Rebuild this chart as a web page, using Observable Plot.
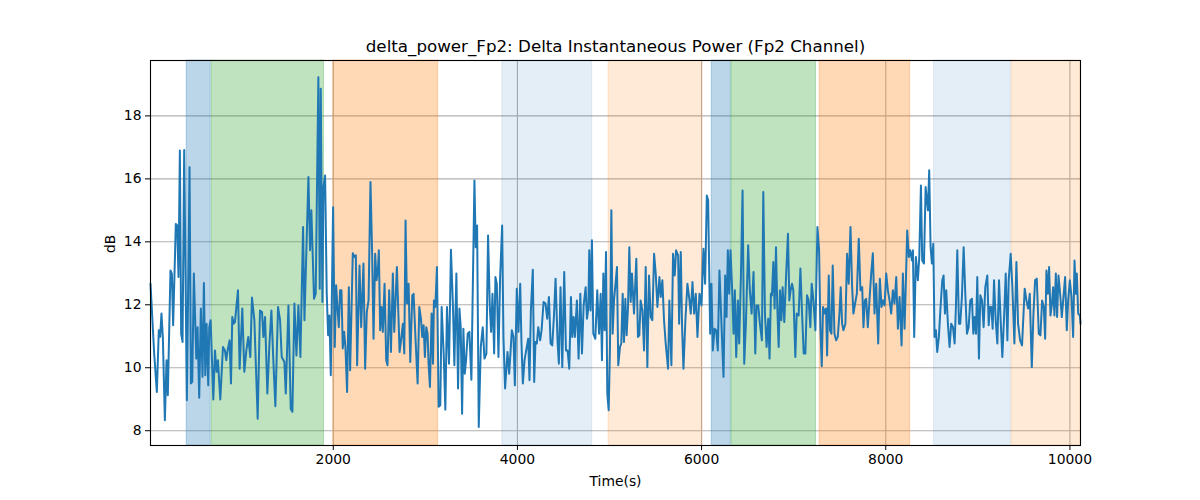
<!DOCTYPE html>
<html><head><meta charset="utf-8">
<script src="https://cdn.jsdelivr.net/npm/d3@7"></script>
<script src="https://cdn.jsdelivr.net/npm/@observablehq/plot@0.6"></script>
<style>html,body{margin:0;padding:0;background:#fff;} #chart svg{font-family:"DejaVu Sans",sans-serif;}</style>
</head><body><div id="chart"></div>
<script>
const title = "delta_power_Fp2: Delta Instantaneous Power (Fp2 Channel)";
const xLabel = "Time(s)";
const yLabel = "dB";
const xTicks = [2000, 4000, 6000, 8000, 10000];
const yTicks = [8, 10, 12, 14, 16, 18];

// shaded segments [start, end] in seconds and their kind
const spanStart = [408, 680, 2000, 3836, 4990, 6110, 6325, 7282, 8525, 9367];
const spanEnd   = [669, 1899, 3139, 4812, 6008, 6317, 7242, 8265, 9358, 10115];
const spanKind  = ["blue", "green", "orange", "paleBlue", "paleOrange", "blue", "green", "orange", "paleBlue", "paleOrange"];

// [time (s), power (dB)]
const trace1 = [[15,12.67],[55,10.45],[84,9.23],[105,11.19],[120,10.98],[134,11.72],[149,10.98],[171,8.33],[189,10.24],[203,9.13],[232,13.09],[247,12.99],[261,11.35],[290,14.57],[305,14.52],[319,12.88],[334,16.90],[348,11.08],[363,10.82],[381,16.92],[410,8.97],[439,16.37],[454,9.50],[468,9.55],[486,12.99],[512,10.29],[526,11.29],[544,9.05],[562,11.88],[580,9.71],[595,12.69],[610,9.76],[624,11.40],[642,9.44],[653,11.29],[668,11.51],[697,8.99],[715,10.55],[733,9.87],[747,10.24],[773,8.99],[802,10.66],[823,10.55],[838,10.24],[852,10.55],[874,10.87],[889,9.50],[903,11.61],[918,11.40],[932,11.45],[965,12.46],[983,9.97],[1012,11.88],[1034,9.87],[1056,10.55],[1077,10.98],[1099,10.34],[1117,12.23],[1143,11.51],[1179,8.38],[1204,11.82],[1226,11.77],[1241,10.98],[1259,11.61],[1284,9.18],[1306,10.71],[1328,11.82],[1349,10.24],[1371,8.78],[1400,11.93],[1422,11.51],[1440,10.34],[1469,10.18],[1484,9.18],[1513,11.98],[1538,8.70],[1556,8.60],[1578,12.04],[1600,10.39],[1621,11.98],[1643,10.34],[1672,14.47],[1687,11.51]];
const trace2 = [[1730,16.06],[1748,13.73],[1762,15.00],[1791,12.19],[1809,12.35],[1838,19.23],[1853,12.51],[1864,18.86],[1882,12.09],[1893,15.74],[1911,16.11],[1929,12.35],[1944,11.03],[1958,11.66],[1973,9.76],[1998,15.10],[2016,10.66],[2031,12.62],[2045,11.93],[2060,11.29],[2074,12.46],[2089,12.46],[2103,10.61],[2118,11.14],[2132,10.66],[2150,9.23],[2169,12.56],[2183,9.92],[2212,13.64],[2230,13.52],[2245,13.57],[2259,10.08],[2285,13.25],[2303,11.29],[2328,13.31],[2346,9.97],[2364,11.77],[2383,12.14],[2404,15.90],[2422,13.62],[2437,10.92],[2455,13.62],[2470,12.78],[2484,13.09],[2495,13.73],[2509,11.19],[2524,11.93],[2538,11.14],[2557,12.67],[2575,10.24],[2589,10.08],[2607,12.46],[2626,10.50],[2647,12.99],[2662,11.14],[2691,13.20],[2720,10.50],[2734,10.82],[2756,11.40],[2771,10.45],[2785,14.68],[2800,12.04],[2818,12.67],[2836,10.18],[2858,12.30],[2872,12.35],[2894,10.87],[2916,9.50],[2934,11.93],[2952,11.56],[2966,10.98],[2981,11.35],[2995,10.34],[3010,11.29],[3024,11.08],[3035,10.13],[3050,9.39],[3068,11.72],[3083,10.13],[3093,12.14],[3108,11.93],[3126,13.20],[3144,8.76],[3162,8.81],[3177,11.93],[3199,10.45],[3217,8.67],[3235,11.93],[3257,10.13],[3278,13.75],[3300,11.93],[3315,10.08]];
const trace3 = [[3337,12.99],[3355,9.34],[3370,11.88],[3384,11.29],[3399,8.54],[3413,11.24],[3428,9.81],[3442,10.24],[3460,11.08],[3478,11.14],[3500,9.62],[3533,15.95],[3547,13.83],[3562,14.52],[3580,8.12],[3602,10.66],[3623,11.29],[3642,10.29],[3663,10.45],[3681,14.20],[3700,11.93],[3714,11.14],[3729,12.35],[3747,10.45],[3761,12.88],[3776,12.67],[3794,10.34],[3812,12.88],[3834,14.52],[3848,10.98],[3866,9.34],[3892,10.50],[3910,9.81],[3924,10.45],[3939,11.19],[3957,10.98],[3972,9.44],[3993,12.51],[4011,11.14],[4030,12.67],[4044,10.77],[4059,9.50],[4077,10.24],[4095,10.55],[4117,10.92],[4131,9.60],[4146,11.82],[4167,13.11],[4182,9.55],[4196,10.82],[4211,10.77],[4226,11.29],[4247,10.87],[4262,11.19],[4284,12.09],[4305,12.04],[4323,11.56],[4342,12.25],[4360,10.77],[4378,10.71],[4396,11.61],[4414,12.83],[4436,10.82],[4450,10.13],[4468,12.56],[4487,10.02],[4508,13.04],[4527,10.55],[4545,10.55],[4563,9.97],[4581,12.25],[4595,10.98],[4610,11.61],[4624,10.98],[4646,12.14],[4664,10.29],[4683,12.35],[4701,10.45],[4719,11.98],[4741,12.56],[4755,11.56],[4770,11.88],[4780,13.73],[4795,11.82],[4809,14.05],[4824,11.08],[4846,10.92],[4867,12.46],[4886,11.08],[4904,12.35],[4918,10.24],[4933,12.99],[4947,11.19],[4962,13.68],[4976,9.18],[4991,8.65],[5005,10.66],[5020,15.00],[5034,11.08],[5049,12.14]];
const trace4 = [[5081,13.20],[5095,10.08],[5114,10.66],[5128,10.77],[5143,12.35],[5157,10.82],[5172,12.19],[5186,11.03],[5201,11.93],[5215,13.83],[5230,12.09],[5244,12.99],[5266,11.72],[5291,13.46],[5309,10.98],[5324,11.03],[5338,12.14],[5357,11.82],[5375,10.55],[5393,13.20],[5411,10.02],[5429,12.93],[5447,11.61],[5465,11.51],[5484,13.62],[5502,12.99],[5520,11.93],[5542,12.88],[5556,12.25],[5574,12.78],[5592,11.51],[5610,10.77],[5636,9.97],[5650,12.14],[5672,10.08],[5690,13.62],[5708,12.93],[5723,13.73],[5745,13.57],[5756,11.40],[5774,13.68],[5788,11.29],[5803,9.97],[5824,11.51],[5846,12.67],[5864,12.25],[5882,11.72],[5901,12.72],[5919,11.72],[5937,12.35],[5955,10.98],[5977,12.35],[5999,11.98],[6020,13.78],[6038,12.67],[6057,15.47],[6071,15.32],[6093,11.08],[6107,12.67],[6122,10.55],[6140,11.24],[6158,11.19],[6176,10.55],[6194,13.09],[6213,11.61],[6238,9.71],[6256,12.93],[6271,11.61],[6285,13.73],[6300,12.35],[6314,13.73],[6332,12.46],[6347,11.08],[6361,12.46],[6376,10.34],[6394,12.14],[6408,10.77],[6427,12.88],[6445,15.63],[6463,10.13],[6481,11.40],[6506,13.89],[6524,12.46],[6543,11.72],[6564,13.04],[6583,10.45],[6597,11.98],[6615,11.98],[6633,11.40],[6655,10.87],[6670,15.58],[6688,11.72],[6706,10.66],[6724,11.56],[6738,10.29],[6753,12.35]];
const trace5 = [[6764,12.30],[6779,13.36],[6793,11.88],[6808,13.83],[6822,11.93],[6837,10.66],[6851,12.46],[6866,11.51],[6880,12.56],[6898,11.45],[6917,12.88],[6938,14.26],[6953,12.14],[6967,12.46],[6982,12.67],[6996,12.46],[7018,10.34],[7033,11.72],[7054,11.66],[7073,13.15],[7091,11.72],[7109,10.45],[7127,10.45],[7145,12.30],[7163,12.14],[7181,11.29],[7196,12.67],[7214,12.14],[7236,11.19],[7258,14.47],[7276,13.73],[7290,11.29],[7305,10.05],[7319,11.93],[7337,11.72],[7352,11.88],[7363,10.39],[7381,12.93],[7395,11.19],[7410,11.08],[7424,13.25],[7443,11.08],[7461,10.87],[7479,10.98],[7497,11.72],[7511,12.56],[7526,11.40],[7540,11.19],[7562,11.40],[7580,13.62],[7598,12.67],[7617,14.47],[7635,12.56],[7649,11.72],[7667,12.04],[7686,12.35],[7707,14.10],[7725,12.46],[7744,12.56],[7758,11.29],[7773,12.14],[7787,12.19],[7805,11.29],[7823,12.14],[7842,12.99],[7860,13.64],[7878,11.72],[7896,12.67],[7918,10.77],[7936,12.83],[7954,11.93],[7969,12.14],[7987,11.98],[8005,12.99],[8023,12.46],[8041,12.14],[8059,11.72],[8077,12.46],[8095,12.04],[8114,12.88],[8132,11.24],[8150,12.25],[8172,10.71],[8186,12.99],[8204,11.24],[8215,12.35],[8233,14.36],[8251,13.52],[8266,13.73],[8284,13.41],[8295,13.73],[8309,10.98],[8327,13.52],[8349,12.78],[8364,13.52],[8382,15.79],[8396,13.41],[8415,13.31],[8433,15.74]];
const trace6 = [[8458,15.00],[8472,16.27],[8487,13.83],[8501,13.31],[8516,13.94],[8530,10.98],[8545,11.19],[8559,10.50],[8577,10.98],[8595,11.93],[8614,12.78],[8628,12.93],[8643,11.72],[8657,12.46],[8675,11.40],[8693,10.66],[8711,11.40],[8730,11.29],[8748,10.77],[8762,11.93],[8777,13.73],[8795,11.40],[8809,11.40],[8827,12.25],[8846,13.83],[8864,12.35],[8882,11.08],[8900,11.29],[8918,12.14],[8936,12.19],[8951,11.08],[8965,11.61],[8980,11.08],[8994,12.88],[9012,10.29],[9027,12.30],[9045,12.14],[9063,11.29],[9081,12.56],[9103,12.93],[9118,11.35],[9132,11.93],[9147,11.93],[9161,11.24],[9176,12.78],[9194,11.51],[9212,10.77],[9230,12.78],[9248,11.51],[9266,10.34],[9285,11.61],[9303,12.99],[9321,10.87],[9335,12.78],[9357,13.62],[9375,12.56],[9397,10.77],[9419,13.36],[9437,11.40],[9459,10.87],[9480,10.71],[9509,12.51],[9528,12.14],[9546,11.88],[9564,12.35],[9586,10.02],[9604,11.72],[9622,12.78],[9640,12.83],[9662,11.08],[9680,11.03],[9698,12.14],[9716,11.93],[9731,10.92],[9745,13.09],[9760,12.35],[9774,13.20],[9789,11.66],[9803,11.98],[9818,12.56],[9832,11.66],[9847,12.99],[9861,11.61],[9876,12.93],[9894,12.35],[9912,11.61],[9930,12.25],[9948,12.88],[9966,11.19],[9981,12.14],[9999,12.78],[10017,12.25],[10035,10.98],[10050,13.41],[10064,12.35],[10075,12.99],[10090,11.72],[10108,11.66],[10115,11.40]];

// styling (not data)
const kindFill = {blue: "#1f77b4", green: "#2ca02c", orange: "#ff7f0e", paleBlue: "#1f77b4", paleOrange: "#ff7f0e"};
const kindOpacity = {blue: 0.3, green: 0.3, orange: 0.3, paleBlue: 0.12, paleOrange: 0.16};

const series = [...trace1, ...trace2, ...trace3, ...trace4, ...trace5, ...trace6].map(([t, v]) => ({t, v}));
const spans = spanStart.map((s, i) => ({start: s, end: spanEnd[i], kind: spanKind[i]}));

const chart = Plot.plot({
  width: 1200, height: 500,
  marginTop: 60, marginBottom: 55, marginLeft: 150, marginRight: 120,
  style: {fontFamily: "DejaVu Sans, sans-serif", fontSize: "13.9px", background: "white", color: "black", overflow: "visible"},
  x: {domain: [15, 10115], ticks: xTicks, tickFormat: d3.format("d"), tickSize: 5, tickPadding: 4, label: null},
  y: {domain: [7.53, 19.76], ticks: yTicks, tickFormat: d3.format("d"), tickSize: 5, tickPadding: 4, label: null},
  color: {type: "identity"},
  opacity: {type: "identity"},
  marks: [
    Plot.gridX(xTicks, {stroke: "#b0b0b0", strokeOpacity: 1, strokeWidth: 1.1}),
    Plot.gridY(yTicks, {stroke: "#b0b0b0", strokeOpacity: 1, strokeWidth: 1.1}),
    Plot.rect(spans, {x1: "start", x2: "end", fill: d => kindFill[d.kind], fillOpacity: d => kindOpacity[d.kind],
      stroke: d => kindFill[d.kind], strokeOpacity: d => kindOpacity[d.kind], strokeWidth: 1}),
    Plot.line(series, {x: "t", y: "v", stroke: "#1f77b4", strokeWidth: 2, strokeLinejoin: "round"}),
    Plot.frame({stroke: "black", strokeWidth: 1.1}),
    Plot.text([title], {text: d => d, frameAnchor: "top", dy: -14, fontSize: 16.7, lineAnchor: "middle"}),
    Plot.text([xLabel], {text: d => d, frameAnchor: "bottom", dy: 36, lineAnchor: "middle"}),
    Plot.text([yLabel], {text: d => d, frameAnchor: "left", dx: -40, rotate: -90, lineAnchor: "middle"})
  ]
});
document.getElementById("chart").appendChild(chart);
</script>
</body></html>
